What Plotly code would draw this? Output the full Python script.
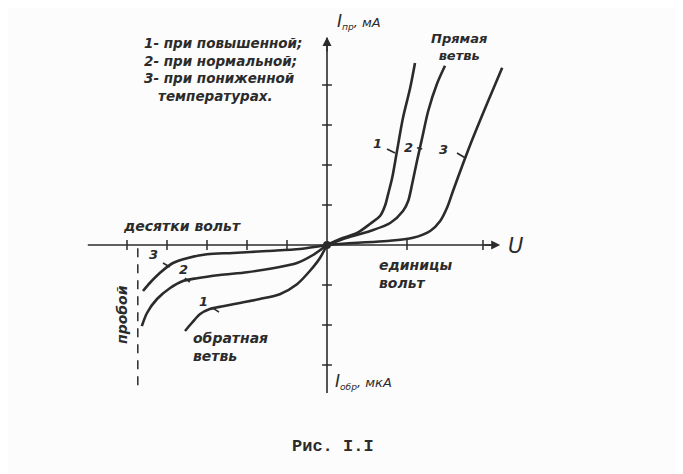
import plotly.graph_objects as go

# ---- data (units: one axis division) ----
fwd1_x = [0, 0.33, 0.75, 1.08, 1.33, 1.45, 1.53, 1.63, 1.75, 1.9, 2.08, 2.2]
fwd1_y = [0, 0.15, 0.3, 0.53, 0.73, 0.98, 1.28, 1.68, 2.35, 3.18, 3.93, 4.55]
fwd2_x = [0, 0.5, 1.08, 1.58, 1.9, 2.03, 2.13, 2.25, 2.38, 2.53, 2.75, 2.95]
fwd2_y = [0, 0.18, 0.35, 0.55, 0.85, 1.1, 1.53, 2.1, 2.68, 3.35, 4.03, 4.48]
fwd3_x = [0, 0.65, 1.5, 2.15, 2.58, 2.83, 3.0, 3.15, 3.4, 3.65, 4.0, 4.38]
fwd3_y = [0, 0.05, 0.1, 0.18, 0.35, 0.6, 0.93, 1.35, 2.03, 2.68, 3.53, 4.43]

rev1_x = [0, -0.18, -0.43, -0.75, -1.18, -1.68, -2.18, -2.6, -2.93, -3.18, -3.38, -3.55]
rev1_y = [0, -0.33, -0.65, -0.98, -1.23, -1.35, -1.45, -1.53, -1.6, -1.73, -1.95, -2.15]
rev2_x = [0, -0.35, -0.75, -1.35, -2.0, -2.68, -3.25, -3.6, -3.93, -4.25, -4.5, -4.63]
rev2_y = [0, -0.25, -0.45, -0.58, -0.68, -0.75, -0.83, -0.9, -1.08, -1.35, -1.7, -2.03]
rev3_x = [0, -0.68, -1.5, -2.35, -3.0, -3.5, -3.85, -4.18, -4.43, -4.6]
rev3_y = [0, -0.1, -0.15, -0.2, -0.23, -0.33, -0.45, -0.7, -0.95, -1.15]

x_ticks_neg = [-5, -4, -3, -2, -1]
x_ticks_pos = [2, 3.9]
y_ticks_pos = [1, 2, 3, 4]
y_ticks_neg = [-1, -2, -3]

breakdown_u = -4.73
breakdown_i = [-0.08, -3.65]

legend_lines = ["1- при повышенной;", "2- при нормальной;", "3- при пониженной", "температурах."]
curve_labels = ["1", "2", "3"]

INK = "#2b2b2b"
FONT = "DejaVu Sans"

fig = go.Figure()

# axes
fig.add_trace(go.Scatter(x=[-5.98, 4.25], y=[0, 0], mode="lines",
                         line=dict(color=INK, width=1.6), hoverinfo="skip"))
fig.add_trace(go.Scatter(x=[0, 0], y=[-3.7, 5.18], mode="lines",
                         line=dict(color=INK, width=1.6), hoverinfo="skip"))
# ticks
fig.add_trace(go.Scatter(x=x_ticks_neg + x_ticks_pos, y=[0] * (len(x_ticks_neg) + len(x_ticks_pos)),
                         mode="markers",
                         marker=dict(symbol="line-ns", size=7, line=dict(color=INK, width=1.5))))
fig.add_trace(go.Scatter(x=[0] * (len(y_ticks_pos) + len(y_ticks_neg)), y=y_ticks_pos + y_ticks_neg,
                         mode="markers",
                         marker=dict(symbol="line-ew", size=7, line=dict(color=INK, width=1.5))))

# breakdown dashed line
fig.add_trace(go.Scatter(x=[breakdown_u, breakdown_u], y=breakdown_i, mode="lines",
                         line=dict(color=INK, width=1.5, dash="9px,7px")))

# curves
for cx, cy in [(fwd1_x, fwd1_y), (fwd2_x, fwd2_y), (fwd3_x, fwd3_y),
               (rev1_x, rev1_y), (rev2_x, rev2_y), (rev3_x, rev3_y)]:
    fig.add_trace(go.Scatter(x=cx, y=cy, mode="lines",
                             line=dict(color=INK, width=2.6, shape="spline", smoothing=0.8)))

# origin dot
fig.add_trace(go.Scatter(x=[0], y=[0], mode="markers", marker=dict(color=INK, size=8)))

# label leader marks
leaders = [((1.5, 1.7), (2.4, 2.3)), ((2.25, 2.38), (2.43, 2.4)), ((3.25, 3.45), (2.3, 2.18)),
           ((-4.1, -3.93), (-0.45, -0.55)), ((-3.55, -3.43), (-0.83, -0.93)), ((-2.85, -2.7), (-1.58, -1.68))]
for lx, ly in leaders:
    fig.add_trace(go.Scatter(x=list(lx), y=list(ly), mode="lines", line=dict(color=INK, width=1.6)))

ann = []
def txt(x, y, s, size=14, xanchor="center", angle=0, family=FONT, italic=True, bold=True, align="center"):
    t = s
    if italic:
        t = f"<i>{t}</i>"
    if bold:
        t = f"<b>{t}</b>"
    ann.append(dict(x=x, y=y, xref="x", yref="y", text=t, showarrow=False,
                    xanchor=xanchor, yanchor="middle", textangle=angle, align=align,
                    font=dict(family=family, size=size, color=INK)))

# legend text (single block)
legend_text = "<br>".join(legend_lines[:3] + ["&nbsp;&nbsp;&nbsp;" + legend_lines[3]])
txt(-4.62, 4.4, legend_text, size=13.5, xanchor="left", align="left")

big_i = "<span style='font-size:17px'>I</span>"
txt(0.2, 5.58, big_i + "<sub>пр</sub>, мА", size=13, xanchor="left", bold=False)
txt(3.3, 4.95, "Прямая<br>ветвь", size=13)
txt(4.47, -0.03, "U", size=21, xanchor="left", bold=False)
txt(-3.63, 0.48, "десятки вольт", size=14)
txt(1.25, -0.73, "единицы<br>вольт", size=14, xanchor="left", align="left")
txt(-3.4, -2.54, "обратная<br>ветвь", size=14, xanchor="left", align="left")
txt(0.15, -3.4, big_i + "<sub>обр</sub>, мкА", size=13, xanchor="left", bold=False)
txt(-5.13, -1.73, "пробой", size=14, angle=-90)
txt(0.15, -5.03, "Рис. I.I", size=17, family="Liberation Mono", italic=False)

# curve labels
txt(1.25, 2.53, curve_labels[0], size=13)
txt(2.03, 2.43, curve_labels[1], size=13)
txt(2.9, 2.4, curve_labels[2], size=13)
txt(-4.35, -0.23, curve_labels[2], size=13)
txt(-3.6, -0.6, curve_labels[1], size=13)
txt(-3.1, -1.4, curve_labels[0], size=13)

# arrowheads
ann.append(dict(x=4.33, y=0, ax=3.9, ay=0, xref="x", yref="y", axref="x", ayref="y", text="",
                showarrow=True, arrowhead=2, arrowsize=1.2, arrowwidth=1.5, arrowcolor=INK))
ann.append(dict(x=0, y=5.2, ax=0, ay=4.8, xref="x", yref="y", axref="x", ayref="y", text="",
                showarrow=True, arrowhead=2, arrowsize=1.2, arrowwidth=1.5, arrowcolor=INK))

# page body has an 8px margin: size the figure so that it fits the 683x474 window
fig.update_layout(
    width=675, height=466, margin=dict(l=0, r=0, t=0, b=0),
    paper_bgcolor="#fcfcfc", plot_bgcolor="#fcfcfc", showlegend=False,
    xaxis=dict(range=[-7.975, 8.9], visible=False, fixedrange=True),
    yaxis=dict(range=[-5.725, 5.925], visible=False, fixedrange=True),
    annotations=ann,
)

fig.write_html("out.html")
